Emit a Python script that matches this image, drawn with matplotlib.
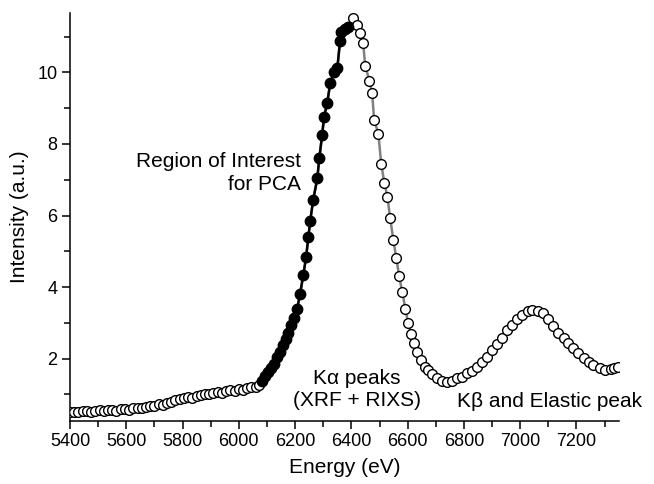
import matplotlib.pyplot as plt
from matplotlib.ticker import MultipleLocator

plt.rcParams['font.family'] = ['Liberation Sans', 'DejaVu Sans']

# low energy tail (open circles)
tail_energy = [5400, 5415, 5430, 5445, 5460, 5475, 5490, 5505, 5520, 5535,
               5550, 5565, 5580, 5595, 5610, 5625, 5640, 5655, 5670, 5685,
               5700, 5715, 5730, 5745, 5760, 5775, 5790, 5805, 5820, 5835,
               5850, 5865, 5880, 5895, 5910, 5925, 5940, 5955, 5970, 5985,
               6000, 6015, 6030, 6045, 6060, 6072]
tail_intensity = [0.50, 0.52, 0.50, 0.53, 0.55, 0.52, 0.54, 0.56, 0.53, 0.57,
                  0.58, 0.55, 0.59, 0.60, 0.58, 0.62, 0.63, 0.62, 0.65, 0.67,
                  0.68, 0.72, 0.70, 0.76, 0.80, 0.84, 0.86, 0.90, 0.93, 0.91,
                  0.97, 0.98, 1.02, 1.00, 1.05, 1.07, 1.04, 1.09, 1.12, 1.10,
                  1.15, 1.13, 1.18, 1.20, 1.22, 1.27]

# region of interest for PCA (filled circles)
roi_energy = [6083, 6094, 6104, 6115, 6126, 6136, 6147, 6158, 6168, 6176,
              6186, 6197, 6207, 6218, 6229, 6239, 6247, 6254, 6264, 6279,
              6286, 6296, 6303, 6314, 6325, 6339, 6350, 6360, 6364, 6378,
              6389]
roi_intensity = [1.37, 1.51, 1.62, 1.73, 1.84, 2.04, 2.18, 2.37, 2.54, 2.71,
                 2.93, 3.13, 3.38, 3.82, 4.33, 4.83, 5.39, 5.86, 6.42, 7.04,
                 7.60, 8.24, 8.75, 9.14, 9.70, 10.00, 10.11, 10.89, 11.14, 11.22,
                 11.28]

# falling edge of Ka, K-beta and elastic peak (open circles)
high_energy = [6407, 6421, 6432, 6442, 6449, 6464, 6474, 6481, 6496, 6506,
               6517, 6528, 6538, 6549, 6560, 6570, 6581, 6592, 6602, 6613,
               6624, 6634, 6649, 6663, 6673, 6688, 6705, 6723, 6741, 6759,
               6777, 6794, 6812, 6830, 6848, 6866, 6883, 6901, 6919, 6937,
               6954, 6972, 6990, 7008, 7026, 7043, 7064, 7082, 7100, 7118,
               7136, 7154, 7171, 7189, 7207, 7225, 7243, 7260, 7285, 7303,
               7321, 7332, 7346]
high_intensity = [11.53, 11.31, 11.11, 10.81, 10.19, 9.77, 9.41, 8.66, 8.29, 7.45,
                  6.92, 6.53, 5.92, 5.33, 4.80, 4.30, 3.85, 3.40, 2.99, 2.68,
                  2.43, 2.20, 1.95, 1.78, 1.67, 1.56, 1.45, 1.37, 1.34, 1.39,
                  1.45, 1.48, 1.59, 1.65, 1.76, 1.90, 2.04, 2.23, 2.40, 2.59,
                  2.79, 2.93, 3.10, 3.21, 3.32, 3.35, 3.32, 3.27, 3.10, 2.90,
                  2.73, 2.57, 2.43, 2.29, 2.15, 2.01, 1.90, 1.82, 1.73, 1.67,
                  1.70, 1.73, 1.78]

fig = plt.figure(figsize=(6.54, 4.84), dpi=100)
ax = fig.add_axes([0.107, 0.131, 0.839, 0.8415])

all_energy = tail_energy + roi_energy + high_energy
all_intensity = tail_intensity + roi_intensity + high_intensity
ax.plot(all_energy, all_intensity, color='#808080', lw=1.8, zorder=1)
ax.plot(roi_energy, roi_intensity, color='black', lw=1.8, zorder=2)

open_style = dict(ls='none', marker='o', ms=7, mfc='white', mec='black', mew=1.0, zorder=3)
ax.plot(tail_energy, tail_intensity, **open_style)
ax.plot(high_energy, high_intensity, **open_style)
ax.plot(roi_energy, roi_intensity, ls='none', marker='o', ms=7.5, color='black', zorder=4)

ax.text(6222, 7.19, 'Region of Interest\nfor PCA', ha='right', va='center',
        multialignment='right', fontsize=15, linespacing=1.25)
ax.text(6420, 1.13, 'K\u03b1 peaks\n(XRF + RIXS)', ha='center', va='center',
        fontsize=15, linespacing=1.2)
ax.text(6775, 0.81, 'K\u03b2 and Elastic peak', ha='left', va='center', fontsize=15)

ax.set_xlim(5400, 7350)
ax.set_ylim(0.27, 11.65)
ax.xaxis.set_major_locator(MultipleLocator(200))
ax.xaxis.set_minor_locator(MultipleLocator(100))
ax.yaxis.set_major_locator(MultipleLocator(2))
ax.yaxis.set_minor_locator(MultipleLocator(1))

for side in ['top', 'right']:
    ax.spines[side].set_visible(False)
for side in ['left', 'bottom']:
    ax.spines[side].set_linewidth(1.1)

ax.tick_params(which='major', length=6, width=1.1, labelsize=13, pad=3)
ax.tick_params(which='minor', length=4, width=1.1)

ax.set_xlabel('Energy (eV)', fontsize=15, labelpad=6)
ax.set_ylabel('Intensity (a.u.)', fontsize=15, labelpad=6)

fig.savefig('out.png', dpi=100)
